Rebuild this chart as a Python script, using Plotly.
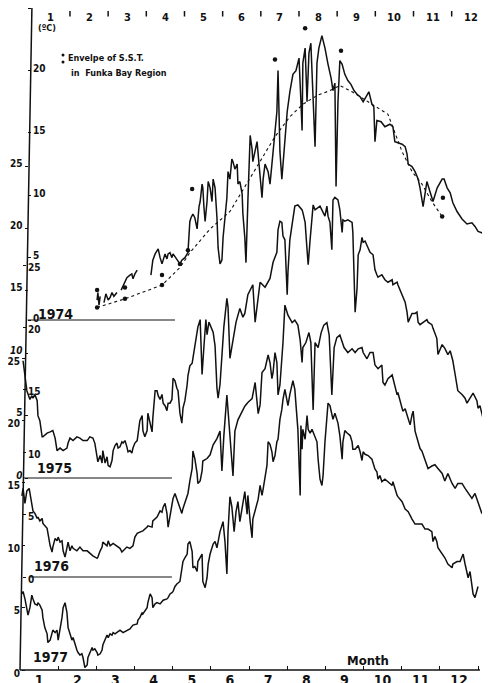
import plotly.graph_objects as go

# ---------------- data (month as decimal, 1.0 = 1 Jan ; SST in deg C) ----------------
MONTH_TICKS = [1.5, 2.5, 3.5, 4.5, 5.5, 6.5, 7.5, 8.5, 9.5, 10.5, 11.5, 12.5]
MONTH_LABELS = ["1", "2", "3", "4", "5", "6", "7", "8", "9", "10", "11", "12"]
MONTH_BOUNDS = [2, 3, 4, 5, 6, 7, 8, 9, 10, 11, 12, 13]
SCALE_TICKS = [0, 5, 10, 15, 20, 25]

SST_1974 = [
    (3.02, 1.6), (3.04, 2.2), (3.07, 1.2), (3.10, 1.9), (None, None),
    (3.20, 1.4), (3.25, 2.1), (3.31, 1.6), (3.36, 1.8), (3.41, 2.2), (3.46, 1.9), (3.54, 2.2), (None, None),
    (3.65, 2.4), (3.72, 2.9), (3.80, 3.4), (3.88, 3.6), (3.93, 3.7), (3.96, 3.3), (4.01, 3.7), (4.07, 4.0), (None, None),
    (4.43, 3.6), (4.48, 4.8), (4.54, 5.3), (4.59, 5.6), (4.62, 5.7), (4.67, 5.0), (4.72, 4.5), (4.75, 4.8), (4.80, 5.3), (4.85, 4.9),
    (4.88, 5.3), (4.93, 5.4), (4.98, 5.0), (5.01, 5.3), (5.11, 4.8), (5.19, 4.5), (5.24, 4.8), (5.32, 5.0), (5.40, 5.4), (5.43, 6.6),
    (5.45, 7.9), (5.48, 8.2), (5.53, 8.5), (5.58, 8.2), (5.64, 7.3), (5.69, 9.1), (5.72, 9.5), (5.77, 10.9), (5.79, 10.6), (5.82, 9.0),
    (5.85, 7.9), (5.90, 9.5), (5.93, 11.1), (5.98, 10.6), (6.03, 9.5), (6.06, 11.3), (6.11, 10.6), (6.16, 8.2), (6.19, 5.8), (6.24, 4.5),
    (6.29, 4.8), (6.32, 6.6), (6.37, 8.2), (6.42, 9.8), (6.45, 11.9), (6.50, 11.3), (6.55, 12.9), (6.58, 12.7), (6.63, 12.1), (6.69, 12.5),
    (6.71, 10.9), (6.76, 11.1), (6.82, 10.1), (6.84, 8.5), (6.89, 6.6), (6.92, 4.6), (6.97, 9.5), (7.03, 14.8), (7.08, 13.7), (7.10, 12.7),
    (7.21, 14.3), (7.29, 11.3), (7.34, 9.8), (7.37, 11.3), (7.42, 12.5), (7.50, 11.9), (7.55, 10.9), (7.60, 12.5), (7.68, 15.1), (7.73, 16.7),
    (7.76, 20.0), (7.79, 16.7), (7.81, 13.5), (7.86, 11.3), (7.92, 13.5), (8.00, 16.7), (8.07, 18.3), (8.15, 19.7), (8.23, 20.0), (8.31, 21.0),
    (8.36, 17.5), (8.39, 15.2), (8.41, 20.6), (8.47, 21.8), (8.52, 17.5), (8.57, 21.4), (8.62, 22.2), (8.68, 18.3), (8.73, 13.9), (8.78, 20.6),
    (8.83, 21.8), (8.91, 22.8), (8.99, 21.8), (9.07, 20.5), (9.15, 19.4), (9.20, 18.4), (9.25, 19.0), (9.28, 10.7), (9.33, 17.5), (9.38, 20.8),
    (9.44, 20.5), (9.51, 19.7), (9.59, 19.2), (9.67, 18.9), (9.75, 18.4), (9.83, 18.1), (9.91, 17.9), (9.99, 17.5), (10.06, 17.9), (10.14, 18.3),
    (10.22, 17.3), (10.27, 17.1), (10.30, 14.3), (10.35, 16.0), (10.46, 15.9), (10.56, 15.5), (10.69, 15.7), (10.77, 15.5), (10.82, 14.3), (11.01, 14.1),
    (11.09, 13.9), (11.14, 13.3), (11.17, 12.5), (11.27, 12.3), (11.35, 11.9), (11.43, 11.3), (11.48, 10.6), (11.56, 9.1), (11.66, 11.1), (11.74, 10.2),
    (11.82, 9.5), (11.93, 10.6), (12.06, 11.3), (12.11, 11.3), (12.19, 10.6), (12.27, 10.2), (12.34, 9.4), (12.45, 8.7), (12.58, 8.1), (12.71, 7.7),
    (12.84, 7.8), (12.92, 7.5), (13.00, 7.1), (13.10, 7.0), (13.18, 6.7),
]

ENVELOPE_LINE = [
    (3.02, 1.0), (3.75, 1.7), (4.72, 2.8), (5.19, 4.2), (5.45, 5.4), (5.98, 7.3), (6.50, 8.7), (6.89, 10.7),
    (7.29, 12.7), (7.68, 14.7), (8.07, 16.3), (8.41, 17.3), (8.78, 18.0), (9.12, 18.4), (9.38, 18.8), (9.70, 18.3),
    (10.12, 17.5), (10.43, 16.9), (10.64, 16.5), (11.01, 13.5), (11.27, 11.9), (11.53, 10.9), (11.79, 9.5), (12.06, 8.3),
]
ENVELOPE_DOTS = [
    (3.02, 2.4), (3.75, 2.6), (4.72, 3.6), (5.51, 10.5), (7.68, 20.9), (8.47, 23.4), (9.41, 21.6), (12.08, 9.8),
    (3.02, 1.0), (3.75, 1.7), (4.72, 2.8), (5.19, 4.5), (5.40, 5.6), (12.06, 8.3),
]

SST_1975 = [
    (1.08, 9.4), (1.13, 8.0), (1.18, 7.0), (1.26, 6.3), (1.31, 6.6), (1.34, 6.4), (1.39, 6.7), (1.45, 6.2), (1.47, 5.0), (1.52, 4.6),
    (1.58, 3.3), (1.60, 3.3), (1.71, 3.6), (1.79, 3.7), (1.86, 3.8), (1.92, 3.2), (1.97, 2.2), (2.05, 2.4), (2.13, 2.2), (2.23, 2.4),
    (2.26, 2.8), (2.31, 3.2), (2.39, 3.0), (2.49, 3.3), (2.57, 3.2), (2.65, 3.0), (2.76, 3.0), (2.83, 3.3), (2.91, 3.2), (2.96, 2.8),
    (3.02, 1.8), (3.04, 1.3), (3.10, 1.8), (3.15, 1.2), (3.17, 2.2), (3.23, 1.2), (3.28, 1.7), (3.31, 1.0), (3.36, 0.9), (3.41, 1.4),
    (3.44, 2.2), (3.49, 2.6), (3.54, 2.8), (3.57, 2.4), (3.62, 2.5), (3.67, 2.9), (3.70, 2.8), (3.75, 3.0), (3.80, 2.5), (3.83, 2.1),
    (3.88, 2.2), (3.93, 2.0), (3.96, 2.4), (4.01, 2.8), (4.07, 3.0), (4.09, 3.6), (4.14, 4.6), (4.20, 5.0), (4.22, 3.8), (4.27, 3.3),
    (4.33, 3.8), (4.35, 5.2), (4.41, 4.4), (4.46, 3.7), (4.48, 4.8), (4.54, 7.0), (4.59, 7.0), (4.62, 6.6), (4.67, 6.3), (4.72, 6.7),
    (4.75, 6.0), (4.80, 5.8), (4.85, 5.4), (4.88, 6.0), (4.93, 6.0), (4.98, 6.3), (5.01, 8.0), (5.06, 7.8), (5.11, 7.2), (5.14, 7.0),
    (5.19, 5.2), (5.24, 4.4), (5.27, 5.6), (5.32, 6.2), (5.38, 7.5), (5.40, 8.2), (5.45, 9.0), (5.51, 9.2), (5.53, 9.6), (5.58, 10.7),
    (5.66, 12.1), (5.72, 12.7), (5.74, 10.6), (5.77, 8.3), (5.82, 10.6), (5.87, 12.7), (5.90, 11.5), (5.95, 12.5), (6.06, 11.7), (6.11, 10.6),
    (6.16, 7.2), (6.19, 6.4), (6.24, 7.5), (6.29, 9.8), (6.34, 12.1), (6.42, 14.4), (6.45, 13.7), (6.50, 9.6), (6.55, 10.6), (6.61, 11.7),
    (6.66, 12.5), (6.76, 13.6), (6.84, 12.9), (6.89, 13.2), (6.97, 14.7), (7.10, 15.5), (7.16, 12.5), (7.29, 15.7), (7.42, 15.3), (7.55, 16.0),
    (7.63, 17.3), (7.73, 18.1), (7.76, 19.9), (7.81, 20.6), (7.86, 20.5), (7.89, 19.4), (7.94, 19.1), (8.00, 14.7), (8.02, 16.5), (8.07, 19.1),
    (8.15, 21.0), (8.20, 21.8), (8.28, 21.9), (8.39, 21.5), (8.41, 21.3), (8.47, 20.5), (8.52, 18.3), (8.55, 17.1), (8.60, 19.1), (8.65, 21.3),
    (8.68, 21.9), (8.73, 21.5), (8.86, 21.8), (8.94, 21.3), (8.99, 21.0), (9.04, 21.8), (9.07, 21.0), (9.12, 20.5), (9.17, 18.3), (9.20, 22.3),
    (9.25, 22.5), (9.33, 22.3), (9.38, 21.5), (9.44, 19.7), (9.46, 20.7), (9.51, 20.6), (9.59, 20.7), (9.70, 20.5), (9.72, 19.7), (9.78, 13.3),
    (9.83, 15.2), (9.86, 17.9), (9.91, 18.3), (9.96, 19.3), (9.99, 18.9), (10.04, 19.0), (10.09, 18.7), (10.17, 18.1), (10.25, 17.9), (10.30, 16.7),
    (10.35, 16.3), (10.38, 16.1), (10.48, 16.3), (10.56, 15.9), (10.64, 15.7), (10.75, 15.9), (10.77, 15.5), (10.88, 15.7), (10.90, 15.5), (11.01, 14.7),
    (11.09, 14.1), (11.14, 13.3), (11.17, 12.5), (11.27, 13.2), (11.35, 13.2), (11.40, 13.3), (11.43, 12.5), (11.48, 12.3), (11.56, 12.5), (11.66, 12.7),
    (11.69, 12.5), (11.79, 12.3), (11.82, 12.0), (11.92, 11.2), (11.95, 9.9), (12.06, 10.7), (12.13, 10.4), (12.21, 9.9), (12.27, 10.2), (12.34, 9.4),
    (12.40, 8.3), (12.47, 7.0), (12.58, 6.7), (12.66, 6.4), (12.71, 6.0), (12.79, 6.4), (12.87, 6.8), (12.97, 6.2), (13.00, 5.6), (13.05, 5.8),
    (13.10, 5.2), (13.13, 4.8),
]

SST_1976 = [
    (1.05, 6.5), (1.08, 7.1), (1.13, 5.9), (1.18, 6.9), (1.24, 7.1), (1.29, 6.1), (1.34, 5.3), (1.39, 5.1), (1.45, 4.7), (1.47, 4.8),
    (1.52, 4.5), (1.58, 4.7), (1.60, 4.3), (1.71, 3.9), (1.73, 3.5), (1.79, 2.5), (1.84, 2.0), (1.86, 2.4), (1.92, 3.1), (1.97, 2.9),
    (2.00, 3.2), (2.05, 2.8), (2.10, 2.9), (2.13, 2.1), (2.18, 1.6), (2.23, 2.4), (2.26, 2.8), (2.31, 2.1), (2.36, 2.5), (2.39, 2.3),
    (2.49, 2.1), (2.57, 2.4), (2.65, 2.1), (2.76, 2.1), (2.83, 1.9), (2.91, 1.7), (3.02, 1.5), (3.04, 1.6), (3.10, 2.1), (3.15, 2.4),
    (3.17, 2.8), (3.28, 2.5), (3.31, 2.9), (3.36, 2.5), (3.44, 2.7), (3.54, 2.5), (3.62, 2.3), (3.67, 2.0), (3.70, 2.1), (3.80, 2.4),
    (3.88, 2.3), (3.96, 2.5), (4.01, 3.2), (4.07, 3.5), (4.14, 3.6), (4.22, 3.7), (4.33, 4.0), (4.35, 4.1), (4.46, 4.0), (4.48, 4.5),
    (4.59, 4.8), (4.67, 5.3), (4.72, 5.2), (4.75, 5.6), (4.80, 5.9), (4.85, 5.1), (4.88, 4.0), (4.93, 4.8), (5.01, 6.3), (5.06, 6.7),
    (5.11, 6.3), (5.14, 5.9), (5.19, 5.5), (5.24, 5.1), (5.27, 5.5), (5.32, 5.9), (5.40, 6.7), (5.45, 7.7), (5.51, 8.7), (5.53, 10.1),
    (5.58, 9.5), (5.64, 8.3), (5.66, 7.5), (5.72, 7.7), (5.77, 8.5), (5.79, 9.3), (5.90, 9.5), (5.98, 9.8), (6.06, 10.6), (6.16, 11.1),
    (6.24, 11.7), (6.29, 8.5), (6.34, 11.3), (6.42, 14.6), (6.48, 12.5), (6.53, 10.1), (6.58, 8.1), (6.63, 11.7), (6.71, 12.6), (6.82, 13.3),
    (6.89, 13.7), (6.97, 14.0), (7.08, 14.3), (7.16, 15.6), (7.21, 14.0), (7.24, 13.1), (7.29, 13.8), (7.34, 16.4), (7.42, 16.7), (7.50, 17.8),
    (7.55, 17.2), (7.60, 15.9), (7.63, 16.4), (7.68, 18.0), (7.73, 17.2), (7.76, 14.6), (7.81, 15.4), (7.86, 17.2), (7.89, 18.8), (7.94, 21.8),
    (8.02, 21.0), (8.13, 20.4), (8.20, 20.6), (8.28, 20.2), (8.34, 19.0), (8.39, 17.2), (8.41, 18.4), (8.49, 18.8), (8.57, 19.6), (8.62, 18.8),
    (8.68, 13.4), (8.73, 18.8), (8.81, 18.4), (8.89, 19.6), (8.96, 20.2), (9.04, 20.4), (9.10, 19.4), (9.17, 14.6), (9.23, 18.4), (9.30, 19.2),
    (9.38, 19.4), (9.49, 18.4), (9.59, 18.0), (9.70, 18.3), (9.78, 18.0), (9.86, 18.3), (9.96, 18.4), (9.99, 18.0), (10.09, 17.5), (10.17, 18.0),
    (10.25, 18.0), (10.30, 17.0), (10.38, 16.7), (10.48, 17.0), (10.51, 15.6), (10.56, 15.4), (10.64, 15.9), (10.75, 16.2), (10.82, 15.4), (10.88, 14.6),
    (10.90, 14.8), (10.96, 14.2), (11.01, 13.5), (11.03, 13.3), (11.09, 13.5), (11.17, 12.7), (11.22, 12.2), (11.27, 13.0), (11.30, 13.3), (11.35, 11.7),
    (11.40, 11.1), (11.43, 10.9), (11.48, 10.3), (11.53, 10.1), (11.56, 9.8), (11.61, 9.3), (11.69, 8.7), (11.79, 8.9), (11.87, 9.0), (11.95, 8.7),
    (12.06, 8.3), (12.13, 7.7), (12.21, 8.3), (12.32, 7.5), (12.40, 7.1), (12.47, 7.5), (12.58, 7.5), (12.66, 7.1), (12.74, 6.7), (12.84, 6.3),
    (12.92, 6.7), (13.00, 5.9), (13.10, 5.1), (13.13, 5.3),
]

SST_1977 = [
    (1.05, 6.1), (1.08, 6.3), (1.13, 5.7), (1.18, 5.0), (1.21, 4.4), (1.26, 5.0), (1.31, 6.0), (1.34, 5.7), (1.39, 5.3), (1.45, 5.2),
    (1.47, 5.4), (1.52, 5.2), (1.58, 4.8), (1.60, 4.2), (1.65, 3.4), (1.71, 2.9), (1.73, 2.2), (1.79, 2.4), (1.84, 2.9), (1.86, 3.2),
    (1.92, 3.0), (1.97, 3.2), (2.00, 2.4), (2.05, 3.2), (2.10, 4.2), (2.13, 5.0), (2.18, 5.4), (2.23, 4.6), (2.26, 3.4), (2.31, 2.9),
    (2.36, 2.4), (2.39, 2.6), (2.44, 2.0), (2.49, 1.6), (2.52, 1.4), (2.57, 1.2), (2.62, 1.3), (2.65, 1.0), (2.70, 0.2), (2.76, 0.4),
    (2.78, 1.0), (2.83, 1.4), (2.89, 1.8), (2.91, 1.6), (2.96, 1.7), (3.02, 1.4), (3.04, 1.2), (3.10, 1.3), (3.15, 1.6), (3.17, 2.0),
    (3.23, 2.5), (3.28, 2.8), (3.31, 2.6), (3.36, 2.9), (3.41, 2.8), (3.44, 3.0), (3.49, 2.9), (3.54, 3.0), (3.62, 3.2), (3.70, 3.0),
    (3.80, 3.2), (3.88, 3.3), (3.96, 3.6), (4.07, 3.7), (4.09, 4.0), (4.14, 4.2), (4.20, 4.6), (4.22, 4.5), (4.33, 5.0), (4.35, 5.4),
    (4.41, 6.1), (4.46, 5.8), (4.48, 5.0), (4.54, 5.3), (4.59, 5.4), (4.67, 5.3), (4.75, 5.6), (4.85, 5.7), (4.88, 5.8), (4.93, 6.1),
    (4.98, 6.2), (5.01, 6.3), (5.06, 6.7), (5.11, 6.9), (5.19, 7.1), (5.24, 7.9), (5.27, 8.7), (5.32, 9.0), (5.38, 9.3), (5.40, 10.1),
    (5.45, 10.3), (5.51, 9.5), (5.53, 8.2), (5.58, 8.3), (5.64, 7.9), (5.66, 8.7), (5.72, 9.0), (5.77, 9.3), (5.79, 7.1), (5.85, 6.6),
    (5.90, 7.4), (5.93, 8.5), (5.98, 9.3), (6.03, 9.8), (6.06, 10.1), (6.11, 10.3), (6.16, 9.8), (6.24, 11.1), (6.32, 11.9), (6.37, 10.3),
    (6.42, 7.7), (6.45, 11.1), (6.50, 13.9), (6.55, 13.1), (6.61, 11.1), (6.66, 12.7), (6.71, 13.5), (6.76, 11.9), (6.82, 13.1), (6.89, 14.3),
    (6.95, 12.5), (6.97, 14.0), (7.03, 11.9), (7.08, 10.6), (7.10, 12.1), (7.21, 13.3), (7.24, 13.7), (7.29, 14.8), (7.34, 14.0), (7.37, 14.5),
    (7.47, 16.4), (7.50, 18.3), (7.55, 18.1), (7.60, 17.5), (7.63, 16.7), (7.68, 17.2), (7.73, 18.3), (7.76, 18.5), (7.81, 20.1), (7.86, 20.9),
    (7.89, 21.7), (7.94, 22.5), (8.00, 21.4), (8.02, 21.2), (8.07, 22.1), (8.13, 23.0), (8.15, 23.2), (8.20, 22.5), (8.26, 20.1), (8.28, 19.3),
    (8.34, 14.0), (8.36, 19.6), (8.39, 17.7), (8.41, 19.3), (8.47, 18.5), (8.52, 20.4), (8.55, 19.3), (8.60, 19.0), (8.65, 19.3), (8.73, 18.7),
    (8.78, 18.3), (8.81, 16.9), (8.86, 15.3), (8.91, 14.8), (8.94, 15.6), (8.99, 18.3), (9.04, 20.4), (9.07, 21.4), (9.12, 21.2), (9.17, 20.6),
    (9.20, 20.1), (9.25, 20.6), (9.30, 20.1), (9.33, 19.8), (9.38, 18.8), (9.44, 16.9), (9.46, 18.3), (9.51, 19.2), (9.57, 19.0), (9.65, 18.8),
    (9.70, 18.3), (9.72, 17.7), (9.78, 17.7), (9.86, 18.0), (9.91, 17.5), (9.96, 16.8), (9.99, 17.5), (10.04, 17.3), (10.12, 17.2), (10.22, 16.9),
    (10.30, 16.1), (10.35, 15.9), (10.38, 15.3), (10.43, 15.6), (10.48, 15.1), (10.56, 15.3), (10.64, 15.1), (10.75, 14.8), (10.77, 15.1), (10.82, 14.5),
    (10.88, 14.0), (10.90, 13.9), (11.01, 13.5), (11.09, 12.9), (11.17, 12.7), (11.27, 12.1), (11.35, 11.7), (11.43, 11.7), (11.53, 11.7), (11.61, 11.3),
    (11.69, 11.3), (11.79, 11.1), (11.82, 10.3), (11.87, 10.7), (11.92, 10.3), (11.95, 9.8), (12.06, 9.3), (12.13, 9.0), (12.21, 8.5), (12.32, 8.2),
    (12.34, 8.5), (12.45, 8.7), (12.53, 8.7), (12.61, 9.3), (12.66, 8.5), (12.71, 7.7), (12.74, 7.4), (12.79, 7.9), (12.84, 6.9), (12.87, 6.1),
    (12.92, 5.8), (12.97, 6.3), (13.00, 6.7),
]

# ---------------- geometry / style ----------------
# the page body keeps the browser's default 8px margin, so the figure is laid out
# to put its plot area at screen x 20..490 and y 8..670
OFF = 8
W, H = 490, 683
ML, MR, MT = 20 - OFF, OFF, 0
PW = W - ML - MR                   # 470
PH = (670 - OFF) - MT              # 662
MB = H - MT - PH                   # 21
PX_PER_C = 12.47
PX_PER_MONTH = 38.17
SPAN = PH / PX_PER_C
TOP_SHIFT = 11.8          # the top month scale sits a little right of the bottom one (skewed scan)
FONT = "Liberation Sans Narrow, DejaVu Sans Condensed, Arial Narrow, sans-serif"
BLACK = "#111111"


def px_x(px):
    """screen x (px) -> paper fraction"""
    return (px - 20) / PW


def px_y(py):
    """screen y (px) -> paper fraction"""
    return (670 - py) / PH


def yrange(base_px):
    lo = -(670 - base_px) / PX_PER_C
    return [lo, lo + SPAN]


fig = go.Figure()


def add_line(pts, yaxis, name, width=1.5, dash=None):
    fig.add_trace(go.Scatter(
        x=[p[0] for p in pts], y=[p[1] for p in pts], mode="lines", name=name,
        xaxis="x", yaxis=yaxis, connectgaps=False, showlegend=False, hoverinfo="skip",
        line=dict(color=BLACK, width=width, dash=dash)))


add_line(ENVELOPE_LINE, "y", "Envelope", width=1.1, dash="dot")
fig.add_trace(go.Scatter(
    x=[p[0] for p in ENVELOPE_DOTS], y=[p[1] for p in ENVELOPE_DOTS], mode="markers",
    xaxis="x", yaxis="y", showlegend=False, hoverinfo="skip",
    marker=dict(color=BLACK, size=4.5)))
add_line(SST_1974, "y", "1974")
add_line(SST_1975, "y2", "1975")
add_line(SST_1976, "y3", "1976")
add_line(SST_1977, "y4", "1977")

tickfont = dict(family=FONT, size=10, color=BLACK, weight="bold")


def yax(base_px, side, pos_px, ticktext, shift=0, ticklen=3, overlay=True):
    d = dict(range=yrange(base_px), anchor="free", position=px_x(pos_px), side=side,
             tickvals=SCALE_TICKS, ticktext=ticktext, ticks="outside", ticklen=ticklen,
             tickcolor=BLACK, tickwidth=1.2, tickfont=tickfont, ticklabelshift=shift,
             showgrid=False, zeroline=False, showline=False, fixedrange=True, automargin=False)
    if overlay:
        d["overlaying"] = "y"
    return d


plain = [str(v) for v in SCALE_TICKS]
italic_1975 = ["<i>0</i>", "5", "<i>10</i>", "15", "20", "25"]

fig.update_layout(
    width=W, height=H, margin=dict(l=ML, r=MR, t=MT, b=MB, autoexpand=False),
    paper_bgcolor="white", plot_bgcolor="rgba(0,0,0,0)", showlegend=False,
    font=dict(family=FONT, color=BLACK),
    xaxis=dict(range=[1, 1 + PW / PX_PER_MONTH], domain=[0, 1], tickvals=MONTH_TICKS, ticktext=MONTH_LABELS,
               ticks="", showline=False, showgrid=False, zeroline=False, automargin=False,
               tickfont=dict(family=FONT, size=14, color=BLACK, weight="bold"),
               minor=dict(tickvals=MONTH_BOUNDS, ticks="inside", ticklen=4, tickcolor=BLACK, tickwidth=1.3)),
    yaxis=yax(320, "right", 27, plain, shift=-2, overlay=False),
    yaxis2=yax(478, "left", 27.5, italic_1975, shift=-3),
    yaxis3=yax(577, "right", 22, plain, shift=2),
    yaxis4=yax(670, "left", 25, plain, shift=3),
)

shapes = [
    # left (slightly skewed) axis line and bottom axis line
    dict(type="line", xref="paper", yref="paper", x0=px_x(32), y0=px_y(3), x1=px_x(20), y1=px_y(670),
         line=dict(color=BLACK, width=1.5)),
    dict(type="line", xref="x", yref="paper", x0=1, x1=13.05, y0=0, y1=0, line=dict(color=BLACK, width=1.5)),
    # year baselines
    dict(type="line", xref="x", yref="y", x0=1.2, x1=5.06, y0=0, y1=0, line=dict(color=BLACK, width=1.2)),
    dict(type="line", xref="x", yref="y2", x0=1.08, x1=4.98, y0=0, y1=0, line=dict(color=BLACK, width=1.2)),
    dict(type="line", xref="x", yref="y3", x0=1.26, x1=4.98, y0=0, y1=0, line=dict(color=BLACK, width=1.2)),
    # legend dots
    dict(type="circle", xref="paper", yref="paper", x0=px_x(61.5), x1=px_x(64.5), y0=px_y(56.5), y1=px_y(53.5),
         fillcolor=BLACK, line=dict(width=0)),
    dict(type="circle", xref="paper", yref="paper", x0=px_x(61.5), x1=px_x(64.5), y0=px_y(63.5), y1=px_y(60.5),
         fillcolor=BLACK, line=dict(width=0)),
]
# top month scale: short tick marks at month boundaries (shifted right like the scan)
for b in MONTH_BOUNDS:
    shapes.append(dict(type="line", xref="x", xsizemode="pixel", xanchor=b, x0=TOP_SHIFT, x1=TOP_SHIFT,
                       yref="paper", y0=px_y(11), y1=px_y(16.5), line=dict(color=BLACK, width=1.5)))
fig.update_layout(shapes=shapes)

# top month labels
for t, lab in zip(MONTH_TICKS, MONTH_LABELS):
    fig.add_annotation(text=lab, xref="x", yref="paper", x=t, y=px_y(18), xshift=TOP_SHIFT,
                       xanchor="center", yanchor="middle", showarrow=False,
                       font=dict(family=FONT, size=11, color=BLACK, weight="bold"))


def note(text, xpx, ypx, size, xanchor="center"):
    fig.add_annotation(text=text, xref="paper", yref="paper", x=px_x(xpx), y=px_y(ypx),
                       xanchor=xanchor, yanchor="middle", showarrow=False,
                       font=dict(family=FONT, size=size, color=BLACK, weight="bold"))


note("(ºC)", 47, 28, 9)
note("Envelpe of S.S.T.", 66, 58, 9, "left")
note("in  Funka Bay Region", 69, 73, 9, "left")
note("1974", 55, 314, 14)
note("1975", 54, 468, 14)
note("1976", 51, 566, 14)
note("1977", 50, 657, 14)
note("Month", 368, 660, 13)

fig.write_html("out.html")
